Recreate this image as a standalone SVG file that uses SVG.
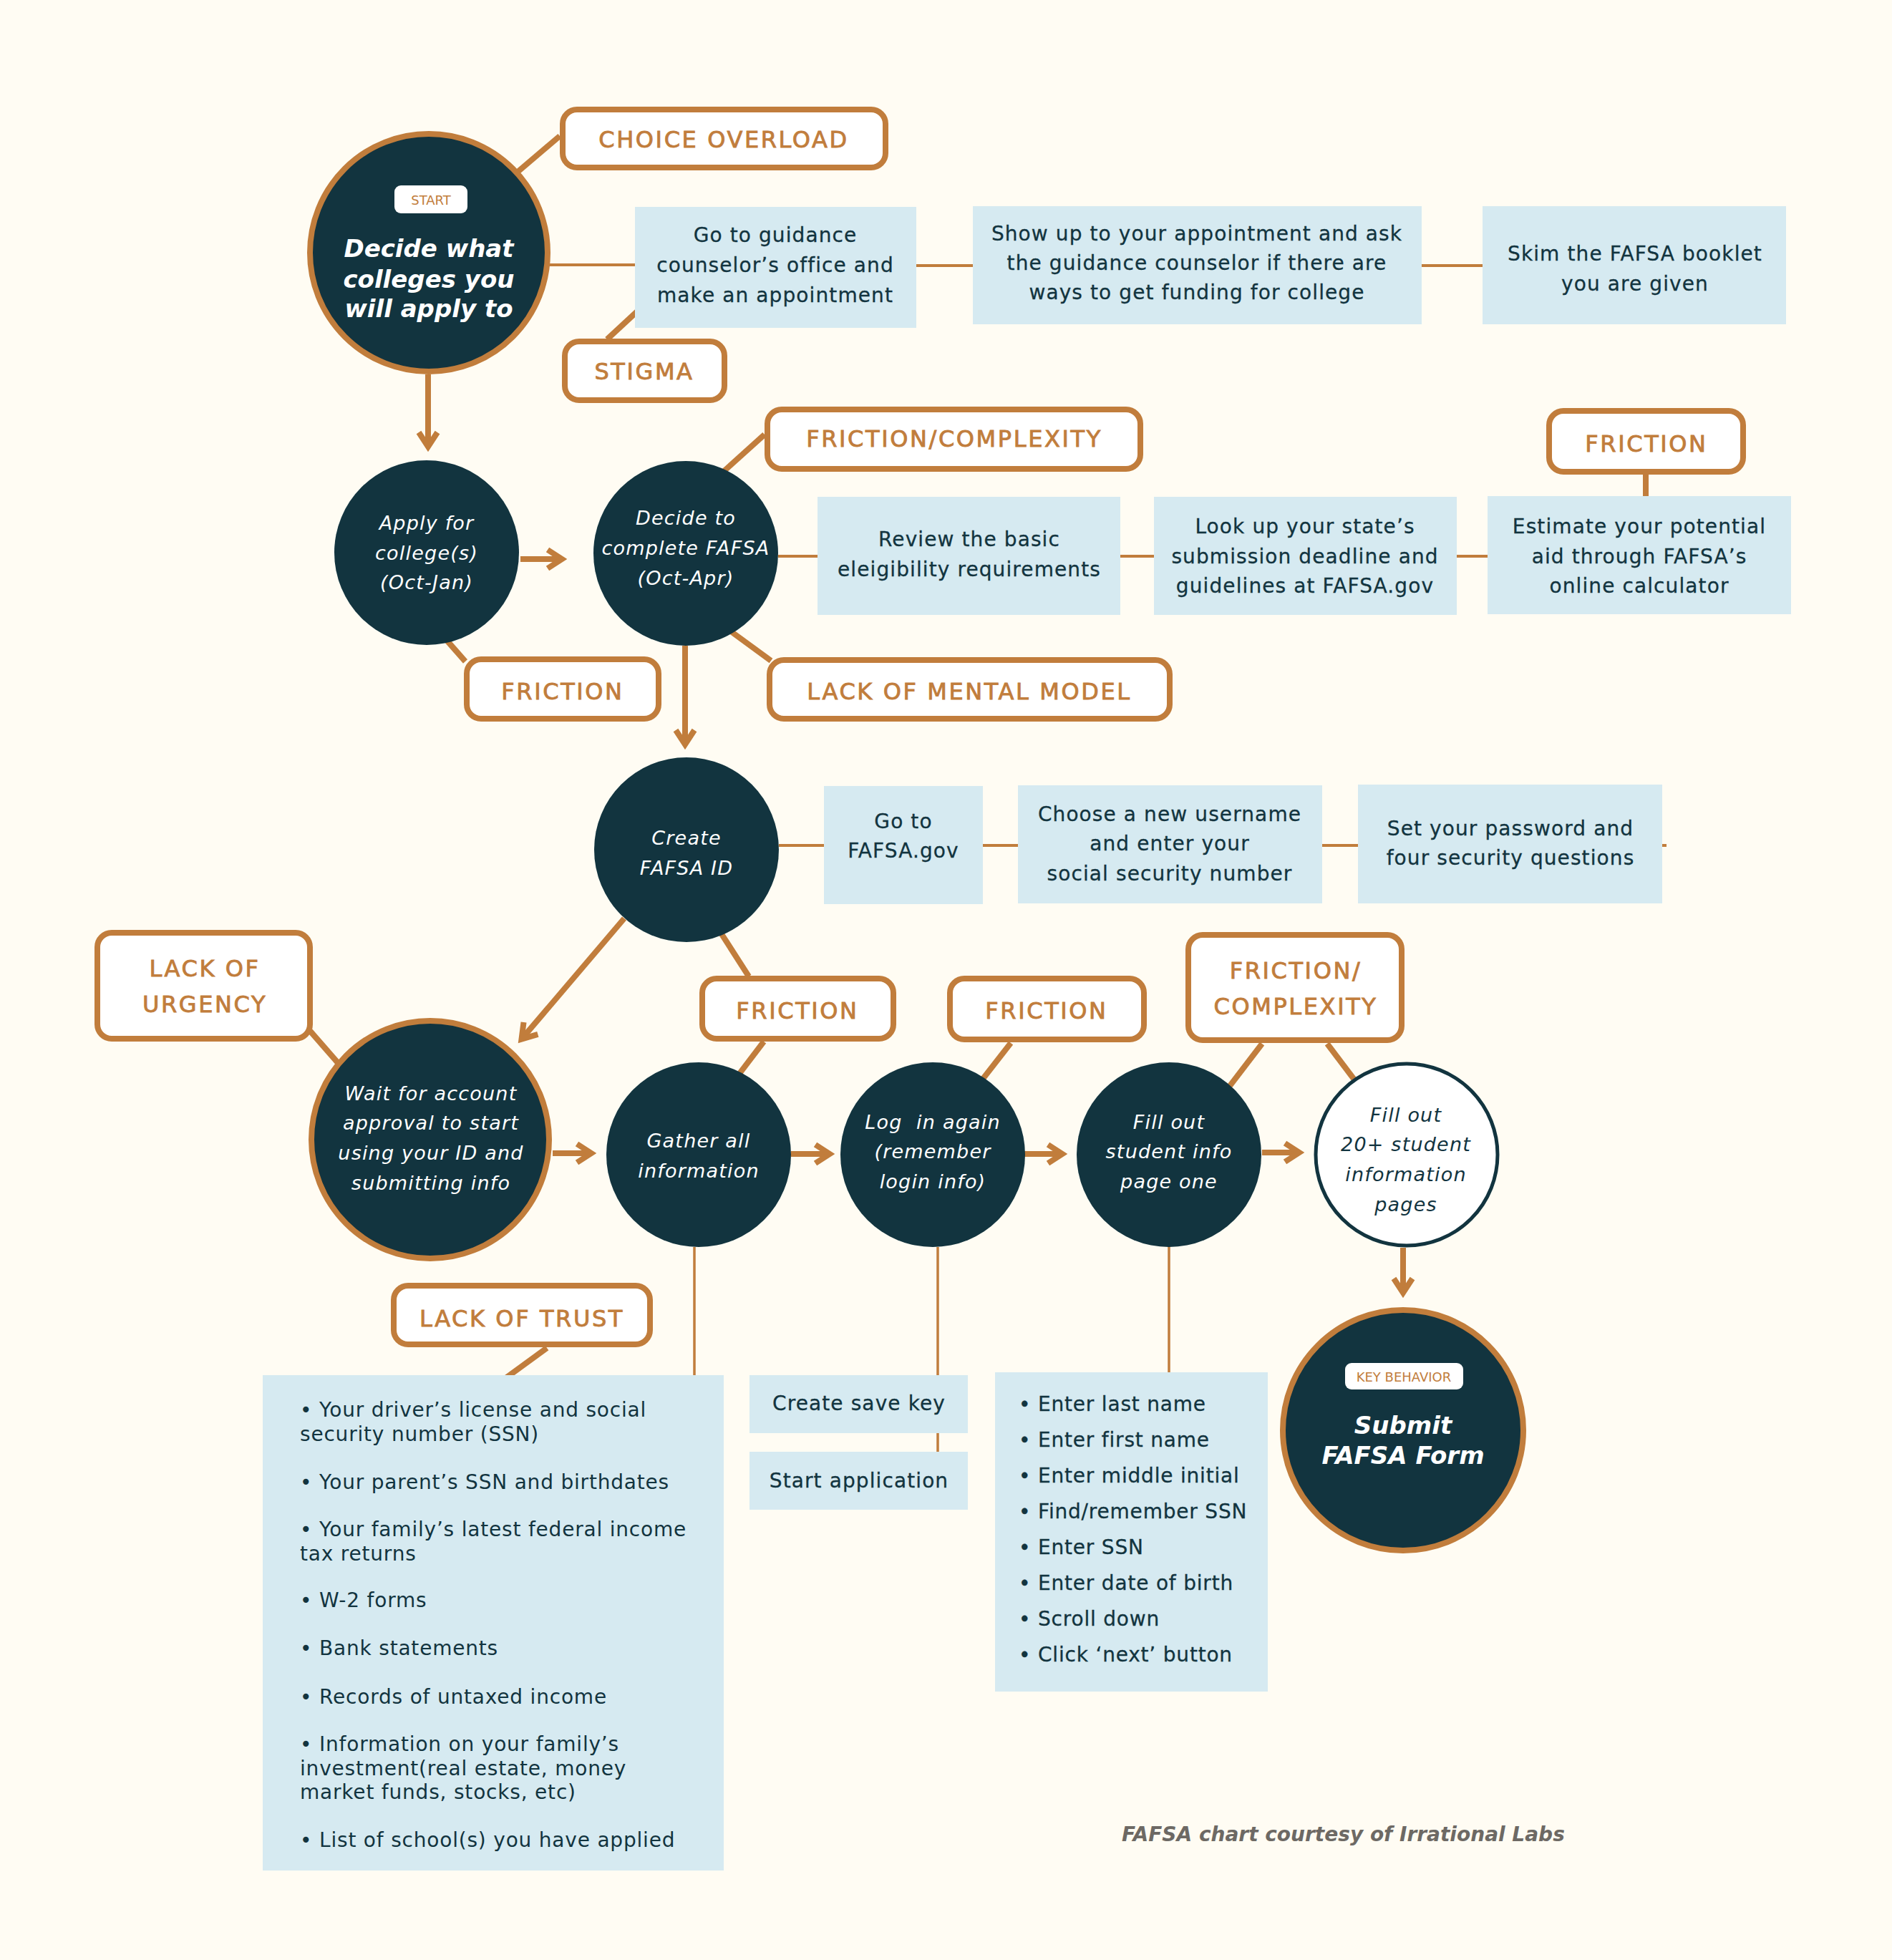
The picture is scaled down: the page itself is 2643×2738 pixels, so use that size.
<svg xmlns="http://www.w3.org/2000/svg" width="2643" height="2738" viewBox="0 0 2643 2738">
<style>
.dk{fill:#12343F}
.ring{fill:#12343F;stroke:#C17D3C;stroke-width:8}
.lbl{fill:#FFFFFF;stroke:#C17D3C;stroke-width:8}
.box{fill:#D6EAF1}
.tag{fill:#FFFFFF}
text{font-family:"DejaVu Sans",sans-serif}
.lt{font-size:32px;letter-spacing:2.6px;fill:#C17D3C;stroke:#C17D3C;stroke-width:0.9px;text-anchor:middle}
.bt{font-size:28px;letter-spacing:1.1px;fill:#12343F;stroke:#12343F;stroke-width:0.3px;text-anchor:middle}
.li{font-size:28px;letter-spacing:0.8px;fill:#12343F;stroke:#12343F;stroke-width:0.3px}
.bl{font-size:28px;letter-spacing:0.8px;fill:#12343F}
.ct{font-size:27px;letter-spacing:1.2px;fill:#FFFFFF;font-style:italic;text-anchor:middle}
.cd{fill:#12343F}
.big{font-size:34px;font-weight:bold;font-style:italic;fill:#FFFFFF;text-anchor:middle}
.tg{font-size:18px;fill:#C17D3C;text-anchor:middle}
.thin{stroke:#C17D3C;stroke-width:4;fill:none}
.vt{stroke:#C17D3C;stroke-width:3.5;fill:none}
.thick{stroke:#C17D3C;stroke-width:8;fill:none}
.arr{stroke:#C17D3C;stroke-width:8;fill:none;marker-end:url(#ah)}
</style>
<defs>
<marker id="ah" viewBox="-30 -20 40 40" markerWidth="40" markerHeight="40" refX="0" refY="0" orient="auto" markerUnits="userSpaceOnUse" overflow="visible">
<path d="M-20,-13 L0,0 L-20,13" fill="none" stroke="#C17D3C" stroke-width="8" stroke-linejoin="miter" stroke-miterlimit="10"/>
</marker>
</defs>
<rect x="0" y="0" width="2643" height="2738" fill="#FFFCF3"/>

<g id="connectors">
<line class="thick" x1="782" y1="190" x2="688" y2="270"/>
<line class="thin" x1="765" y1="370" x2="887" y2="370"/>
<line class="thick" x1="848" y1="474" x2="903" y2="423"/>
<line class="thin" x1="1280" y1="371" x2="1359" y2="371"/>
<line class="thin" x1="1986" y1="371" x2="2071" y2="371"/>
<line class="arr" x1="598" y1="523" x2="598" y2="624"/>
<line class="thick" x1="592" y1="858" x2="650" y2="924"/>
<line class="arr" x1="727" y1="781" x2="785" y2="781"/>
<line class="thick" x1="1068" y1="607" x2="976" y2="690"/>
<line class="thick" x1="980" y1="852" x2="1077" y2="923"/>
<line class="thin" x1="1087" y1="777" x2="1142" y2="777"/>
<line class="thin" x1="1565" y1="777" x2="1612" y2="777"/>
<line class="thin" x1="2035" y1="777" x2="2078" y2="777"/>
<line class="thick" x1="2299" y1="659" x2="2299" y2="708"/>
<line class="arr" x1="957" y1="902" x2="957" y2="1040"/>
<line class="thin" x1="1088" y1="1181" x2="1151" y2="1181"/>
<line class="thin" x1="1373" y1="1181" x2="1422" y2="1181"/>
<line class="thin" x1="1847" y1="1181" x2="1897" y2="1181"/>
<line class="thin" x1="2322" y1="1181" x2="2328" y2="1181"/>
<line class="arr" x1="872" y1="1283" x2="728.5" y2="1451.7"/>
<line class="thick" x1="433" y1="1440" x2="474" y2="1487"/>
<line class="thick" x1="987" y1="1272" x2="1046" y2="1364"/>
<line class="thick" x1="1067" y1="1455" x2="1000" y2="1543"/>
<line class="arr" x1="772" y1="1611" x2="826" y2="1611"/>
<line class="arr" x1="1105" y1="1612" x2="1159" y2="1612"/>
<line class="thick" x1="1412" y1="1457" x2="1345" y2="1543"/>
<line class="arr" x1="1431" y1="1612" x2="1484" y2="1612"/>
<line class="thick" x1="1763" y1="1458" x2="1698" y2="1543"/>
<line class="thick" x1="1854" y1="1458" x2="1891" y2="1507"/>
<line class="arr" x1="1763" y1="1610" x2="1815" y2="1610"/>
<line class="arr" x1="1960" y1="1743" x2="1960" y2="1806"/>
<line class="vt" x1="970" y1="1742" x2="970" y2="1921"/>
<line class="vt" x1="1310" y1="1742" x2="1310" y2="1921"/>
<line class="vt" x1="1310" y1="2002" x2="1310" y2="2028"/>
<line class="vt" x1="1633" y1="1722" x2="1633" y2="1917"/>
<line class="thick" x1="764" y1="1883" x2="690" y2="1937"/>
</g>

<g id="start">
<circle class="ring" cx="599" cy="353" r="166"/>
<rect class="tag" x="551" y="259" width="102" height="39" rx="9"/>
<text class="tg" x="602" y="286">START</text>
<text class="big" x="599" y="359">Decide what</text>
<text class="big" x="599" y="402">colleges you</text>
<text class="big" x="599" y="443">will apply to</text>
</g>

<g id="choice-overload">
<rect class="lbl" x="786" y="153" width="451" height="81" rx="20"/>
<text class="lt" x="1011" y="206">CHOICE OVERLOAD</text>
</g>

<g id="stigma">
<rect class="lbl" x="789" y="477" width="223" height="82" rx="20"/>
<text class="lt" x="900" y="530">STIGMA</text>
</g>

<g id="guidance">
<rect class="box" x="887" y="289" width="393" height="169"/>
<text class="bt" x="1083" y="338">Go to guidance</text>
<text class="bt" x="1083" y="380">counselor’s office and</text>
<text class="bt" x="1083" y="422">make an appointment</text>
</g>

<g id="appointment">
<rect class="box" x="1359" y="288" width="627" height="165"/>
<text class="bt" x="1672" y="336">Show up to your appointment and ask</text>
<text class="bt" x="1672" y="377">the guidance counselor if there are</text>
<text class="bt" x="1672" y="418">ways to get funding for college</text>
</g>

<g id="booklet">
<rect class="box" x="2071" y="288" width="424" height="165"/>
<text class="bt" x="2284" y="364">Skim the FAFSA booklet</text>
<text class="bt" x="2284" y="406">you are given</text>
</g>

<g id="apply">
<circle class="dk" cx="596" cy="772" r="129"/>
<text class="ct" x="596" y="740">Apply for</text>
<text class="ct" x="596" y="782">college(s)</text>
<text class="ct" x="596" y="823">(Oct-Jan)</text>
</g>

<g id="friction-apply">
<rect class="lbl" x="652" y="921" width="268" height="83" rx="20"/>
<text class="lt" x="786" y="977">FRICTION</text>
</g>

<g id="decide">
<circle class="dk" cx="958" cy="773" r="129"/>
<text class="ct" x="958" y="733">Decide to</text>
<text class="ct" x="958" y="775">complete FAFSA</text>
<text class="ct" x="958" y="817">(Oct-Apr)</text>
</g>

<g id="friction-complexity-1">
<rect class="lbl" x="1072" y="572" width="521" height="83" rx="20"/>
<text class="lt" x="1333" y="624">FRICTION/COMPLEXITY</text>
</g>

<g id="lack-mental-model">
<rect class="lbl" x="1075" y="922" width="559" height="82" rx="20"/>
<text class="lt" x="1354" y="977">LACK OF MENTAL MODEL</text>
</g>

<g id="review">
<rect class="box" x="1142" y="694" width="423" height="165"/>
<text class="bt" x="1354" y="763">Review the basic</text>
<text class="bt" x="1354" y="805">eleigibility requirements</text>
</g>

<g id="lookup">
<rect class="box" x="1612" y="694" width="423" height="165"/>
<text class="bt" x="1823" y="745">Look up your state’s</text>
<text class="bt" x="1823" y="787">submission deadline and</text>
<text class="bt" x="1823" y="828">guidelines at FAFSA.gov</text>
</g>

<g id="estimate">
<rect class="box" x="2078" y="693" width="424" height="165"/>
<text class="bt" x="2290" y="745">Estimate your potential</text>
<text class="bt" x="2290" y="787">aid through FAFSA’s</text>
<text class="bt" x="2290" y="828">online calculator</text>
</g>

<g id="friction-estimate">
<rect class="lbl" x="2164" y="574" width="271" height="85" rx="20"/>
<text class="lt" x="2300" y="631">FRICTION</text>
</g>

<g id="create-id">
<circle class="dk" cx="959" cy="1187" r="129"/>
<text class="ct" x="959" y="1180">Create</text>
<text class="ct" x="959" y="1222">FAFSA ID</text>
</g>

<g id="goto-fafsa">
<rect class="box" x="1151" y="1098" width="222" height="165"/>
<text class="bt" x="1262" y="1157">Go to</text>
<text class="bt" x="1262" y="1198">FAFSA.gov</text>
</g>

<g id="username">
<rect class="box" x="1422" y="1097" width="425" height="165"/>
<text class="bt" x="1634" y="1147">Choose a new username</text>
<text class="bt" x="1634" y="1188">and enter your</text>
<text class="bt" x="1634" y="1230">social security number</text>
</g>

<g id="password">
<rect class="box" x="1897" y="1096" width="425" height="166"/>
<text class="bt" x="2110" y="1167">Set your password and</text>
<text class="bt" x="2110" y="1208">four security questions</text>
</g>

<g id="lack-urgency">
<rect class="lbl" x="136" y="1303" width="297" height="148" rx="20"/>
<text class="lt" x="286" y="1364">LACK OF</text>
<text class="lt" x="286" y="1414">URGENCY</text>
</g>

<g id="wait">
<circle class="ring" cx="601" cy="1592" r="166"/>
<text class="ct" x="602" y="1537">Wait for account</text>
<text class="ct" x="602" y="1578">approval to start</text>
<text class="ct" x="602" y="1620">using your ID and</text>
<text class="ct" x="602" y="1662">submitting info</text>
</g>

<g id="friction-gather">
<rect class="lbl" x="981" y="1367" width="267" height="84" rx="20"/>
<text class="lt" x="1114" y="1423">FRICTION</text>
</g>

<g id="gather">
<circle class="dk" cx="976" cy="1613" r="129"/>
<text class="ct" x="976" y="1603">Gather all</text>
<text class="ct" x="976" y="1645">information</text>
</g>

<g id="friction-login">
<rect class="lbl" x="1327" y="1367" width="271" height="85" rx="20"/>
<text class="lt" x="1462" y="1423">FRICTION</text>
</g>

<g id="login">
<circle class="dk" cx="1303" cy="1613" r="129"/>
<text class="ct" x="1303" y="1577" xml:space="preserve">Log  in again</text>
<text class="ct" x="1303" y="1618">(remember</text>
<text class="ct" x="1303" y="1660">login info)</text>
</g>

<g id="fill-page-one">
<circle class="dk" cx="1633" cy="1613" r="129"/>
<text class="ct" x="1633" y="1577">Fill out</text>
<text class="ct" x="1633" y="1618">student info</text>
<text class="ct" x="1633" y="1660">page one</text>
</g>

<g id="friction-complexity-2">
<rect class="lbl" x="1660" y="1306" width="298" height="147" rx="20"/>
<text class="lt" x="1810" y="1367">FRICTION/</text>
<text class="lt" x="1810" y="1417">COMPLEXITY</text>
</g>

<g id="fill-20-pages">
<circle cx="1965" cy="1613" r="127" fill="#FFFFFF" stroke="#12343F" stroke-width="5"/>
<text class="ct cd" x="1964" y="1567">Fill out</text>
<text class="ct cd" x="1964" y="1608">20+ student</text>
<text class="ct cd" x="1964" y="1650">information</text>
<text class="ct cd" x="1964" y="1692">pages</text>
</g>

<g id="submit">
<circle class="ring" cx="1960" cy="1998" r="168"/>
<rect class="tag" x="1879" y="1904" width="165" height="37" rx="9"/>
<text class="tg" x="1961" y="1930">KEY BEHAVIOR</text>
<text class="big" x="1960" y="2003">Submit</text>
<text class="big" x="1960" y="2045">FAFSA Form</text>
</g>

<g id="lack-trust">
<rect class="lbl" x="550" y="1796" width="358" height="82" rx="20"/>
<text class="lt" x="729" y="1853">LACK OF TRUST</text>
</g>

<g id="documents-list">
<rect class="box" x="367" y="1921" width="644" height="692"/>
<text class="bl" x="419" y="1979">• Your driver’s license and social</text>
<text class="bl" x="419" y="2013">security number (SSN)</text>
<text class="bl" x="419" y="2080">• Your parent’s SSN and birthdates</text>
<text class="bl" x="419" y="2146">• Your family’s latest federal income</text>
<text class="bl" x="419" y="2180">tax returns</text>
<text class="bl" x="419" y="2245">• W-2 forms</text>
<text class="bl" x="419" y="2312">• Bank statements</text>
<text class="bl" x="419" y="2380">• Records of untaxed income</text>
<text class="bl" x="419" y="2446">• Information on your family’s</text>
<text class="bl" x="419" y="2480">investment(real estate, money</text>
<text class="bl" x="419" y="2513">market funds, stocks, etc)</text>
<text class="bl" x="419" y="2580">• List of school(s) you have applied</text>
</g>

<g id="save-key">
<rect class="box" x="1047" y="1921" width="305" height="81"/>
<text class="bt" x="1200" y="1970">Create save key</text>
</g>

<g id="start-application">
<rect class="box" x="1047" y="2028" width="305" height="81"/>
<text class="bt" x="1200" y="2078">Start application</text>
</g>

<g id="page-one-steps">
<rect class="box" x="1390" y="1917" width="381" height="446"/>
<text class="li" x="1423" y="1971">• Enter last name</text>
<text class="li" x="1423" y="2021">• Enter first name</text>
<text class="li" x="1423" y="2071">• Enter middle initial</text>
<text class="li" x="1423" y="2121">• Find/remember SSN</text>
<text class="li" x="1423" y="2171">• Enter SSN</text>
<text class="li" x="1423" y="2221">• Enter date of birth</text>
<text class="li" x="1423" y="2271">• Scroll down</text>
<text class="li" x="1423" y="2321">• Click ‘next’ button</text>
</g>

<text x="1567" y="2572" font-size="28" font-weight="bold" font-style="italic" fill="#6D6964">FAFSA chart courtesy of Irrational Labs</text>
</svg>
